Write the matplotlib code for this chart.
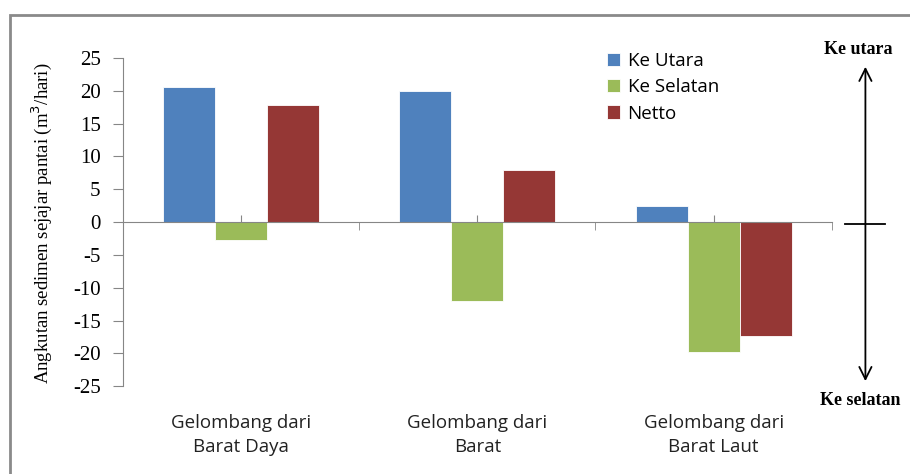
import numpy as np
import matplotlib.pyplot as plt
from matplotlib.patches import Rectangle

categories = ['Gelombang dari\nBarat Daya', 'Gelombang dari\nBarat', 'Gelombang dari\nBarat Laut']
series_names = ['Ke Utara', 'Ke Selatan', 'Netto']
ke_utara = [20.5, 19.9, 2.5]
ke_selatan = [-2.8, -12.0, -19.8]
netto = [17.8, 7.9, -17.3]
colors = ['#4F81BD', '#9BBB59', '#953735']
yticks = list(range(-25, 30, 5))

fig = plt.figure(figsize=(9.1, 4.74), dpi=100)
ax = fig.add_axes([0.135, 0.185, 0.779, 0.693])

x = np.arange(len(categories))
w = 0.22
for i, (vals, name, c) in enumerate(zip([ke_utara, ke_selatan, netto], series_names, colors)):
    ax.bar(x + (i - 1) * w, vals, w, color=c, label=name, edgecolor='white', linewidth=0.6, zorder=2)

ax.set_xlim(-0.5, 2.5)
ax.set_ylim(-25, 25)
ax.set_yticks(yticks)
ax.set_yticklabels([str(t) for t in yticks], family='Liberation Serif', fontsize=15)

# category axis sits on zero
for s in ['top', 'right']:
    ax.spines[s].set_visible(False)
ax.spines['bottom'].set_position(('data', 0))
ax.spines['bottom'].set_color('#868686')
ax.spines['left'].set_color('#868686')
ax.tick_params(axis='y', direction='out', length=7, color='#868686', pad=9)
ax.set_xticks(x)
ax.set_xticks([0.5, 1.5, 2.5], minor=True)
ax.tick_params(axis='x', which='both', direction='out', length=6, color='#868686', labelbottom=False)
ax.tick_params(axis='x', which='major', direction='inout', length=10)

for xi, lab in zip(x, categories):
    ax.text(xi, -29.2, lab, ha='center', va='top', family='Open Sans', fontsize=13.5,
            color='#222222', linespacing=1.45)

fig.text(0.046, 0.53, 'Angkutan sedimen sejajar pantai (m$^3$/hari)', family='Liberation Serif',
         fontsize=13.5, rotation=90, ha='center', va='center')

leg = ax.legend(loc='upper left', bbox_to_anchor=(0.659, 1.07), frameon=False,
                prop={'family': 'Open Sans', 'size': 13.5}, handlelength=0.7, handleheight=0.7,
                handletextpad=0.4, labelspacing=0.45)

# direction annotation on the right
fig.text(0.943, 0.895, 'Ke utara', ha='center', va='center', family='Liberation Serif',
         fontsize=13, fontweight='bold')
fig.text(0.945, 0.155, 'Ke selatan', ha='center', va='center', family='Liberation Serif',
         fontsize=13, fontweight='bold')
ax.annotate('', xy=(0.951, 0.865), xytext=(0.951, 0.19), xycoords='figure fraction',
            arrowprops=dict(arrowstyle='<->', color='black', lw=1.3, mutation_scale=22))
ax.plot([0.929, 0.972], [0.528, 0.528], transform=fig.transFigure, color='black', lw=1.3, clip_on=False)

# outer border
fig.patches.append(Rectangle((0.011, -0.05), 1.1, 1.018, transform=fig.transFigure,
                             fill=False, edgecolor='#8a8a8a', lw=2))

fig.savefig('out.png', dpi=100)
